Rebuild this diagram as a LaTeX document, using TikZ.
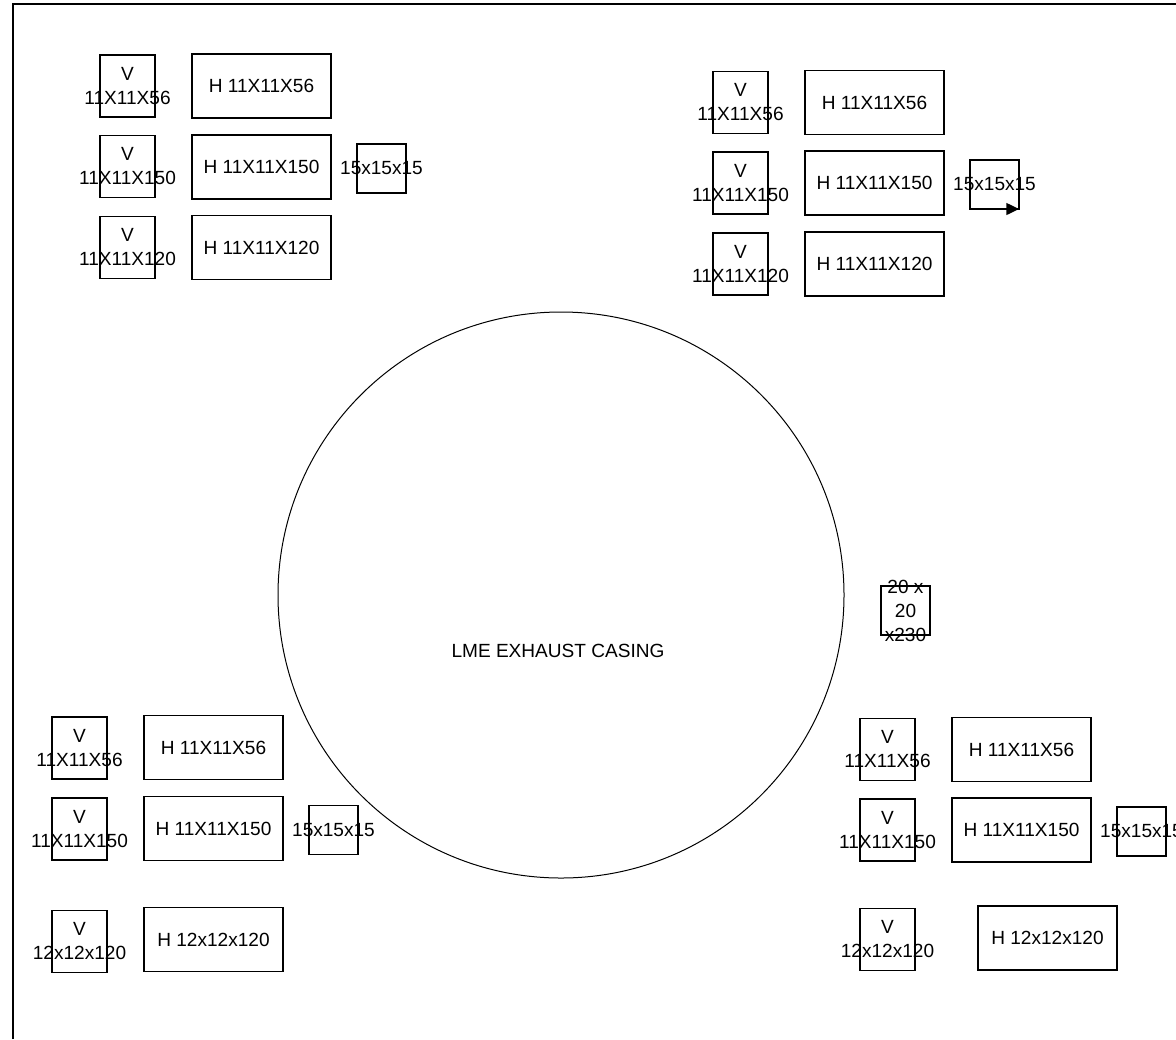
\documentclass[tikz,border=0pt]{standalone}
\usepackage{fontspec}
\setmainfont{Liberation Sans}
\usetikzlibrary{arrows.meta,positioning}
\tikzset{
  boxline/.style={draw=black, line width=1pt, inner sep=0pt, outer sep=0pt},
  vbox/.style={boxline, rectangle, minimum width=41.25pt, minimum height=46.5pt},
  hbox/.style={boxline, rectangle, minimum width=104.25pt, minimum height=48pt, font=\fontsize{14.3}{18}\selectfont},
  sbox/.style={boxline, rectangle, minimum width=36.75pt, minimum height=36.75pt},
  boxtext/.style={align=center, inner sep=0pt, font=\fontsize{14.3}{18}\selectfont}
}
\begin{document}
\begin{tikzpicture}[x=0.75pt, y=-0.75pt]
  \useasboundingbox (0,0) rectangle (1176,1039);
  \draw[line width=1.5pt] (13,1039) -- (13,4) -- (1176,4);

  % casing
  \node[draw=black, line width=0.75pt, circle, minimum size=424.5pt, inner sep=0pt] (casing) at (561,595) {};
  \node[boxtext] (casingtext) at (558,651) {LME EXHAUST CASING};

  % top left
  \node[vbox, label={[boxtext]center:V\\11X11X56}] (tlv1) at (127.5,86) {};
  \node[hbox] (tlh1) at (261.5,86) {H 11X11X56};
  \node[vbox, label={[boxtext]center:V\\11X11X150}] (tlv2) at (127.5,166.5) {};
  \node[hbox] (tlh2) at (261.5,167) {H 11X11X150};
  \node[sbox, label={[boxtext]center:15x15x15}] (tls) at (381.5,168.5) {};
  \node[vbox, label={[boxtext]center:V\\11X11X120}] (tlv3) at (127.5,247.5) {};
  \node[hbox] (tlh3) at (261.5,247.5) {H 11X11X120};

  % top right
  \node[vbox, label={[boxtext]center:V\\11X11X56}] (trv1) at (740.5,102.5) {};
  \node[hbox] (trh1) at (874.5,102.5) {H 11X11X56};
  \node[vbox, label={[boxtext]center:V\\11X11X150}] (trv2) at (740.5,183) {};
  \node[hbox] (trh2) at (874.5,183) {H 11X11X150};
  \node[sbox, label={[boxtext]center:15x15x15}] (trs) at (994.5,184.5) {};
  \node[vbox, label={[boxtext]center:V\\11X11X120}] (trv3) at (740.5,264) {};
  \node[hbox] (trh3) at (874.5,264) {H 11X11X120};
  \draw[line width=1pt, -{Triangle[length=9.5pt, width=9pt]}] (trs.south west) -- (trs.south east);

  % bottom left
  \node[vbox, label={[boxtext]center:V\\11X11X56}] (blv1) at (79.5,748) {};
  \node[hbox] (blh1) at (213.5,747.5) {H 11X11X56};
  \node[vbox, label={[boxtext]center:V\\11X11X150}] (blv2) at (79.5,829) {};
  \node[hbox] (blh2) at (213.5,828.5) {H 11X11X150};
  \node[sbox, label={[boxtext]center:15x15x15}] (bls) at (333.5,830) {};
  \node[vbox, label={[boxtext]center:V\\12x12x120}] (blv3) at (79.5,941.5) {};
  \node[hbox] (blh3) at (213.5,939.5) {H 12x12x120};

  % bottom right
  \node[sbox, label={[boxtext]center:20 x\\20\\x230}] (brpipe) at (905.5,610.5) {};
  \node[vbox, label={[boxtext]center:V\\11X11X56}] (brv1) at (887.5,749.5) {};
  \node[hbox] (brh1) at (1021.5,749.5) {H 11X11X56};
  \node[vbox, label={[boxtext]center:V\\11X11X150}] (brv2) at (887.5,830) {};
  \node[hbox] (brh2) at (1021.5,830) {H 11X11X150};
  \node[sbox, label={[boxtext]center:15x15x15}] (brs) at (1141.5,831.5) {};
  \node[vbox, label={[boxtext]center:V\\12x12x120}] (brv3) at (887.5,939.5) {};
  \node[hbox] (brh3) at (1047.5,938) {H 12x12x120};
\end{tikzpicture}
\end{document}
